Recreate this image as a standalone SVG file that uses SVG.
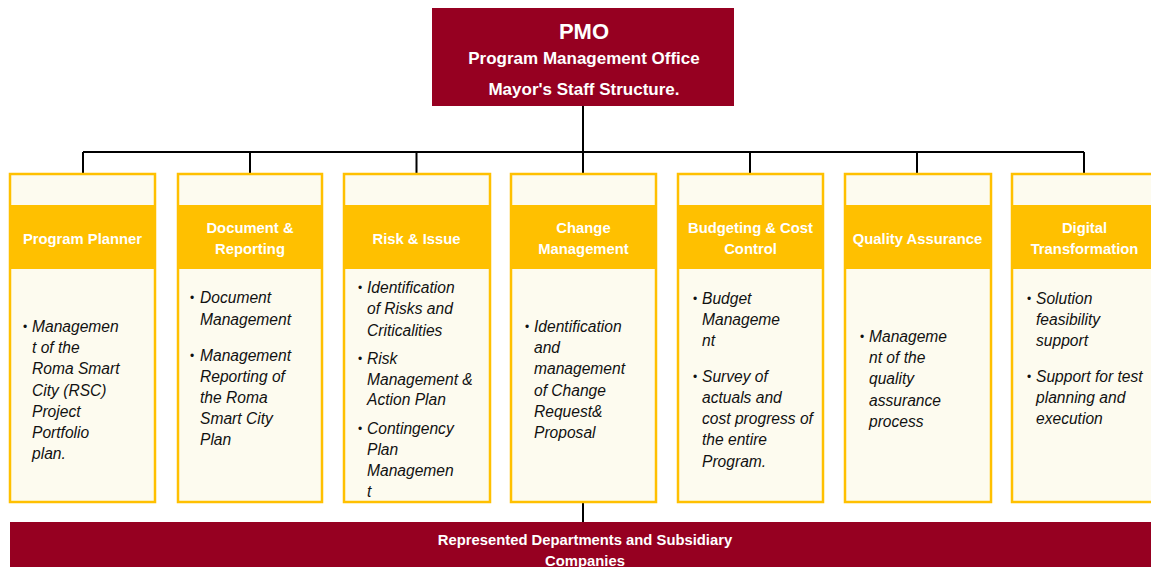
<svg xmlns="http://www.w3.org/2000/svg" width="1151" height="567" viewBox="0 0 1151 567">
  <style>
    .head-box { fill: #960021; }
    .card { fill: #FDFBEF; stroke: #FFC000; stroke-width: 2.5; }
    .band { fill: #FFC000; }
    .title { font-family: "Liberation Sans", Arial, sans-serif; font-weight: bold; fill: #FFFFFF; text-anchor: middle; }
    .band-text { font-family: "Liberation Sans", Arial, sans-serif; font-weight: bold; font-size: 14.8px; fill: #FFFFFF; text-anchor: middle; }
    .item { font-family: "Liberation Sans", Arial, sans-serif; font-style: italic; font-size: 15.6px; fill: #111111; }
    .bullet { font-family: "Liberation Sans", Arial, sans-serif; font-size: 12px; fill: #111111; }
    .wire { stroke: #000000; stroke-width: 2; fill: none; }
  </style>

  <rect width="1151" height="567" fill="#FFFFFF"/>

  <!-- connectors -->
  <g id="connectors">
    <path class="wire" d="M583 106 V152 M83 152 H1084 M83 152 V174 M250 152 V174 M416.5 152 V174 M583 152 V174 M750 152 V174 M917 152 V174 M1084 152 V174"/>
    <path class="wire" d="M583 502 V522"/>
  </g>

  <!-- top office -->
  <g id="pmo">
    <rect class="head-box" x="432" y="8" width="302" height="98"/>
    <text class="title" x="584" y="38.5" font-size="22">PMO</text>
    <text class="title" x="584" y="64" font-size="17">Program Management Office</text>
    <text class="title" x="584" y="95" font-size="17">Mayor's Staff Structure.</text>
  </g>

  <!-- function cards -->
  <g id="program-planner">
    <rect class="card" x="10" y="174" width="145" height="328"/>
    <rect class="band" x="10" y="205" width="145" height="64"/>
    <text class="band-text" x="82.5" y="244">Program Planner</text>
    <text class="bullet" x="23" y="331">•</text>
    <text class="item" x="32">
      <tspan x="32" y="332">Managemen</tspan>
      <tspan x="32" y="353">t of the</tspan>
      <tspan x="32" y="374">Roma Smart</tspan>
      <tspan x="32" y="396">City (RSC)</tspan>
      <tspan x="32" y="417">Project</tspan>
      <tspan x="32" y="438">Portfolio</tspan>
      <tspan x="32" y="459">plan.</tspan>
    </text>
  </g>

  <g id="document-reporting">
    <rect class="card" x="178" y="174" width="144" height="328"/>
    <rect class="band" x="178" y="205" width="144" height="64"/>
    <text class="band-text" x="250" y="233">Document &amp;</text>
    <text class="band-text" x="250" y="254">Reporting</text>
    <text class="bullet" x="190" y="302">•</text>
    <text class="bullet" x="190" y="360">•</text>
    <text class="item">
      <tspan x="200" y="303">Document</tspan>
      <tspan x="200" y="325">Management</tspan>
      <tspan x="200" y="361">Management</tspan>
      <tspan x="200" y="382">Reporting of</tspan>
      <tspan x="200" y="403">the Roma</tspan>
      <tspan x="200" y="424">Smart City</tspan>
      <tspan x="200" y="445">Plan</tspan>
    </text>
  </g>

  <g id="risk-issue">
    <rect class="card" x="344" y="174" width="146" height="328"/>
    <rect class="band" x="344" y="205" width="146" height="64"/>
    <text class="band-text" x="416.5" y="244">Risk &amp; Issue</text>
    <text class="bullet" x="358" y="292">•</text>
    <text class="bullet" x="358" y="363">•</text>
    <text class="bullet" x="358" y="433">•</text>
    <text class="item">
      <tspan x="367" y="293">Identification</tspan>
      <tspan x="367" y="314">of Risks and</tspan>
      <tspan x="367" y="336">Criticalities</tspan>
      <tspan x="367" y="364">Risk</tspan>
      <tspan x="367" y="385">Management &amp;</tspan>
      <tspan x="367" y="405">Action Plan</tspan>
      <tspan x="367" y="434">Contingency</tspan>
      <tspan x="367" y="455">Plan</tspan>
      <tspan x="367" y="476">Managemen</tspan>
      <tspan x="367" y="497">t</tspan>
    </text>
  </g>

  <g id="change-management">
    <rect class="card" x="511" y="174" width="145" height="328"/>
    <rect class="band" x="511" y="205" width="145" height="64"/>
    <text class="band-text" x="583.5" y="233">Change</text>
    <text class="band-text" x="583.5" y="254">Management</text>
    <text class="bullet" x="525" y="331">•</text>
    <text class="item">
      <tspan x="534" y="332">Identification</tspan>
      <tspan x="534" y="353">and</tspan>
      <tspan x="534" y="374">management</tspan>
      <tspan x="534" y="396">of Change</tspan>
      <tspan x="534" y="417">Request&amp;</tspan>
      <tspan x="534" y="438">Proposal</tspan>
    </text>
  </g>

  <g id="budgeting-cost-control">
    <rect class="card" x="678" y="174" width="145" height="328"/>
    <rect class="band" x="678" y="205" width="145" height="64"/>
    <text class="band-text" x="750.5" y="233">Budgeting &amp; Cost</text>
    <text class="band-text" x="750.5" y="254">Control</text>
    <text class="bullet" x="693" y="303">•</text>
    <text class="bullet" x="693" y="381">•</text>
    <text class="item">
      <tspan x="702" y="304">Budget</tspan>
      <tspan x="702" y="325">Manageme</tspan>
      <tspan x="702" y="346">nt</tspan>
      <tspan x="702" y="382">Survey of</tspan>
      <tspan x="702" y="403">actuals and</tspan>
      <tspan x="702" y="424">cost progress of</tspan>
      <tspan x="702" y="445">the entire</tspan>
      <tspan x="702" y="467">Program.</tspan>
    </text>
  </g>

  <g id="quality-assurance">
    <rect class="card" x="845" y="174" width="146" height="328"/>
    <rect class="band" x="845" y="205" width="146" height="64"/>
    <text class="band-text" x="917.5" y="244">Quality Assurance</text>
    <text class="bullet" x="860" y="341">•</text>
    <text class="item">
      <tspan x="869" y="342">Manageme</tspan>
      <tspan x="869" y="363">nt of the</tspan>
      <tspan x="869" y="384">quality</tspan>
      <tspan x="869" y="406">assurance</tspan>
      <tspan x="869" y="427">process</tspan>
    </text>
  </g>

  <g id="digital-transformation">
    <rect class="card" x="1012" y="174" width="146" height="328"/>
    <rect class="band" x="1012" y="205" width="146" height="64"/>
    <text class="band-text" x="1084.5" y="233">Digital</text>
    <text class="band-text" x="1084.5" y="254">Transformation</text>
    <text class="bullet" x="1027" y="303">•</text>
    <text class="bullet" x="1027" y="381">•</text>
    <text class="item">
      <tspan x="1036" y="304">Solution</tspan>
      <tspan x="1036" y="325">feasibility</tspan>
      <tspan x="1036" y="346">support</tspan>
      <tspan x="1036" y="382">Support for test</tspan>
      <tspan x="1036" y="403">planning and</tspan>
      <tspan x="1036" y="424">execution</tspan>
    </text>
  </g>

  <!-- bottom band -->
  <g id="departments">
    <rect class="head-box" x="10" y="522" width="1150" height="50"/>
    <text class="title" x="585" y="545" font-size="14.8">Represented Departments and Subsidiary</text>
    <text class="title" x="585" y="566" font-size="14.8">Companies</text>
  </g>
</svg>
